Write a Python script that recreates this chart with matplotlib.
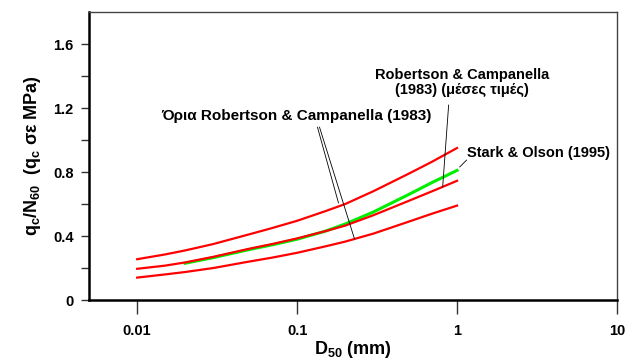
import matplotlib
matplotlib.use("Agg")
import matplotlib.pyplot as plt

plt.rcParams["font.family"] = ["Liberation Sans", "DejaVu Sans"]
plt.rcParams["font.weight"] = "bold"
plt.rcParams["mathtext.fontset"] = "custom"
plt.rcParams["mathtext.rm"] = "Liberation Sans:bold"
plt.rcParams["mathtext.it"] = "Liberation Sans:bold"
plt.rcParams["mathtext.bf"] = "Liberation Sans:bold"

# D50 (mm) and qc/N60 values
d50 = [0.01, 0.015, 0.02, 0.03, 0.05, 0.07, 0.1, 0.15, 0.2, 0.3, 0.5, 0.7, 1.0]
rc_upper = [0.255, 0.285, 0.31, 0.35, 0.41, 0.45, 0.495, 0.555, 0.60, 0.68, 0.79, 0.865, 0.95]
rc_mean = [0.195, 0.215, 0.235, 0.27, 0.32, 0.35, 0.385, 0.43, 0.465, 0.53, 0.62, 0.68, 0.745]
rc_lower = [0.14, 0.16, 0.175, 0.20, 0.24, 0.265, 0.295, 0.335, 0.365, 0.415, 0.49, 0.54, 0.59]

d50_so = [0.02, 0.03, 0.05, 0.07, 0.1, 0.15, 0.2, 0.3, 0.5, 0.7, 1.0]
stark_olson = [0.23, 0.265, 0.315, 0.345, 0.38, 0.43, 0.475, 0.55, 0.66, 0.735, 0.81]

fig = plt.figure(figsize=(6.33, 3.63), dpi=100)
ax = fig.add_axes([89 / 633, 63 / 363, 528 / 633, 288 / 363])

ax.plot(d50, rc_upper, color="#ff0000", lw=1.6)
ax.plot(d50, rc_lower, color="#ff0000", lw=1.6)
ax.plot(d50_so, stark_olson, color="#00ee00", lw=2.2)
ax.plot(d50, rc_mean, color="#ff0000", lw=1.6)

ax.set_xscale("log")
ax.set_xlim(0.005, 10)
ax.set_ylim(0, 1.8)
ax.set_xticks([0.01, 0.1, 1, 10])
ax.set_xticklabels(["0.01", "0.1", "1", "10"])
ax.minorticks_off()
ax.set_yticks([0, 0.4, 0.8, 1.2, 1.6])
ax.set_yticklabels(["0", "0.4", "0.8", "1.2", "1.6"])
ax.set_yticks([0.2, 0.6, 1.0, 1.4], minor=True)

ax.tick_params(axis="x", which="major", direction="out", length=10, width=1,
               labelsize=10.5, pad=7, color="#333333")
ax.tick_params(axis="y", which="both", direction="out", length=6, width=1,
               labelsize=10.5, pad=5, color="#333333")
for lab in ax.get_xticklabels() + ax.get_yticklabels():
    lab.set_fontweight("bold")

for s in ["left", "bottom"]:
    ax.spines[s].set_linewidth(1.8)
    ax.spines[s].set_color("black")
for s in ["top", "right"]:
    ax.spines[s].set_linewidth(1.0)
    ax.spines[s].set_color("#444444")

ax.set_xlabel(r"D$_{50}$ (mm)", fontsize=13, fontweight="bold", labelpad=1)
ax.set_ylabel(r"q$_{c}$/N$_{60}$  (q$_{c}$ σε MPa)",
              fontsize=13, fontweight="bold", labelpad=7)

lead = dict(arrowstyle="-", color="black", lw=0.6, shrinkA=0, shrinkB=0)
ax.text(0.099, 1.15, "Όρια Robertson & Campanella (1983)", ha="center", va="center",
        fontsize=11, fontweight="bold")
ax.annotate("", xy=(0.1815, 0.606), xytext=(0.134, 1.081), arrowprops=lead)
ax.annotate("", xy=(0.2286, 0.381), xytext=(0.138, 1.081), arrowprops=lead)

ax.text(1.07, 1.36, "Robertson & Campanella\n(1983) (μέσες τιμές)", ha="center",
        va="center", fontsize=10.5, fontweight="bold", linespacing=1.15)
ax.annotate("", xy=(0.813, 0.706), xytext=(0.886, 1.219), arrowprops=lead)

ax.text(1.15, 0.92, "Stark & Olson (1995)", ha="left", va="center",
        fontsize=10.5, fontweight="bold")
ax.annotate("", xy=(1.038, 0.831), xytext=(1.148, 0.875), arrowprops=lead)

fig.savefig("out.png", dpi=100)
